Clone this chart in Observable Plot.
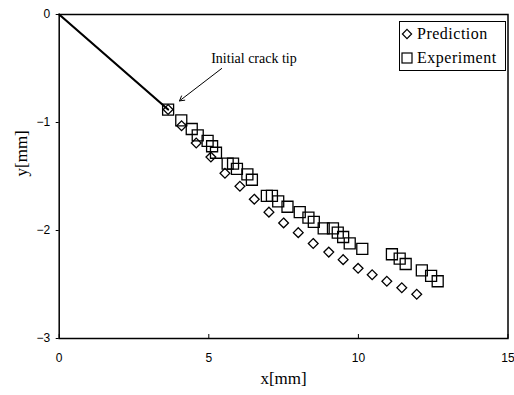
<!DOCTYPE html>
<html>
<head>
<meta charset="utf-8">
<script src="https://cdn.jsdelivr.net/npm/d3@7"></script>
<script src="https://cdn.jsdelivr.net/npm/@observablehq/plot@0.6"></script>
<style>
  body { margin: 0; background: #fff; }
  #wrap { position: relative; width: 514px; height: 395px; }
  #legend {
    position: absolute; left: 399px; top: 21px; width: 107px; height: 50px;
    border: 1px solid #000; background: #fff; box-sizing: border-box;
    font-family: "Liberation Serif", serif; font-size: 16px; letter-spacing: 0.5px; color: #000;
  }
  .item { position: absolute; left: 0; display: flex; align-items: center; height: 22px; }
  .item svg { margin-left: 1px; margin-right: 4px; }
</style>
</head>
<body>
<div id="wrap"></div>
<script>
// Predicted crack path (x in mm, y in mm)
const predX = [3.64, 4.09, 4.58, 5.07, 5.54, 6.04, 6.52, 7.01, 7.50, 7.99, 8.49, 9.01, 9.49, 9.99, 10.46, 10.95, 11.45, 11.95];
const predY = [-0.88, -1.03, -1.19, -1.32, -1.47, -1.59, -1.71, -1.83, -1.93, -2.02, -2.12, -2.20, -2.27, -2.35, -2.41, -2.47, -2.53, -2.59];
// Experimental crack path
const expX = [3.64, 4.08, 4.43, 4.63, 4.96, 5.11, 5.24, 5.63, 5.81, 5.94, 6.29, 6.44, 6.94, 7.11, 7.32, 7.63, 8.04, 8.33, 8.51, 8.84, 9.15, 9.31, 9.49, 9.71, 10.13, 11.12, 11.38, 11.58, 12.12, 12.43, 12.65];
const expY = [-0.88, -0.98, -1.06, -1.12, -1.17, -1.22, -1.28, -1.38, -1.38, -1.43, -1.48, -1.53, -1.68, -1.68, -1.73, -1.78, -1.83, -1.88, -1.92, -1.98, -1.98, -2.02, -2.06, -2.12, -2.17, -2.22, -2.26, -2.31, -2.37, -2.42, -2.47];
// Initial notch: from origin to initial crack tip
const notchX = [0, 3.64];
const notchY = [0, -0.88];
// Annotation
const annText = ["Initial crack tip"];
const annTextX = [5.08];
const annTextY = [-0.41];
const arrowFrom = [5.43, -0.50];
const arrowTo = [4.02, -0.80];
// Axes
const xTicks = [0, 5, 10, 15];
const yTicks = [0, -1, -2, -3];
const legendLabels = ["Prediction", "Experiment"];

const pred = predX.map((x, i) => ({x, y: predY[i]}));
const exp = expX.map((x, i) => ({x, y: expY[i]}));
const notch = notchX.map((x, i) => ({x, y: notchY[i]}));
const ann = annText.map((t, i) => ({t, x: annTextX[i], y: annTextY[i]}));
const arrows = [{x1: arrowFrom[0], y1: arrowFrom[1], x2: arrowTo[0], y2: arrowTo[1]}];
const fmt = d => d < 0 ? "\u2212" + (-d) : String(d);

const chart = Plot.plot({
  width: 514,
  height: 395,
  marginLeft: 58.7,
  marginRight: 6.5,
  marginTop: 14,
  marginBottom: 57,
  style: {fontFamily: "'Liberation Sans', Arial, sans-serif", fontSize: "12px", background: "#fff", color: "#000"},
  x: {domain: [0, 15]},
  y: {domain: [-3, 0]},
  marks: [
    Plot.axisX({ticks: xTicks, tickSize: -4, text: null, label: null}),
    Plot.axisX({ticks: xTicks, tickFormat: fmt, tickSize: 0, tickPadding: 15, label: null, fontSize: 12}),
    Plot.axisY({ticks: yTicks, tickFormat: fmt, tickSize: 3, tickPadding: 6, label: null, fontSize: 12}),
    Plot.line(notch, {x: "x", y: "y", stroke: "#000", strokeWidth: 2.2}),
    Plot.dot(exp, {x: "x", y: "y", symbol: "square2", r: 7, stroke: "#000", strokeWidth: 1.3, fill: "none"}),
    Plot.dot(pred, {x: "x", y: "y", symbol: "diamond2", r: 4.4, stroke: "#000", strokeWidth: 1.3, fill: "none"}),
    Plot.arrow(arrows, {x1: "x1", y1: "y1", x2: "x2", y2: "y2", stroke: "#000", strokeWidth: 1, headLength: 8, bend: 0}),
    Plot.text(ann, {x: "x", y: "y", text: "t", textAnchor: "start", fontFamily: "'Liberation Serif', serif", fontSize: 14}),
    Plot.text(["x[mm]"], {frameAnchor: "bottom", dy: 45, fontFamily: "'Liberation Serif', serif", fontSize: 17}),
    Plot.text(["y[mm]"], {frameAnchor: "left", dx: -38, rotate: -90, fontFamily: "'Liberation Serif', serif", fontSize: 17}),
    Plot.frame({stroke: "#000", strokeWidth: 1.5})
  ]
});

const wrap = document.getElementById("wrap");
wrap.appendChild(chart);

const legend = document.createElement("div");
legend.id = "legend";
const symbols = [
  '<svg width="12" height="12" viewBox="-6 -6 12 12"><path d="M0,-4.6L4.6,0L0,4.6L-4.6,0Z" fill="none" stroke="#000" stroke-width="1.2"/></svg>',
  '<svg width="12" height="12" viewBox="-6 -6 12 12"><rect x="-5" y="-5" width="10" height="10" fill="none" stroke="#000" stroke-width="1.2"/></svg>'
];
legendLabels.forEach((lab, i) => {
  const it = document.createElement("div");
  it.className = "item";
  it.style.top = (1 + i * 24) + "px";
  it.innerHTML = symbols[i] + "<span>" + lab + "</span>";
  legend.appendChild(it);
});
wrap.appendChild(legend);
</script>
</body>
</html>
